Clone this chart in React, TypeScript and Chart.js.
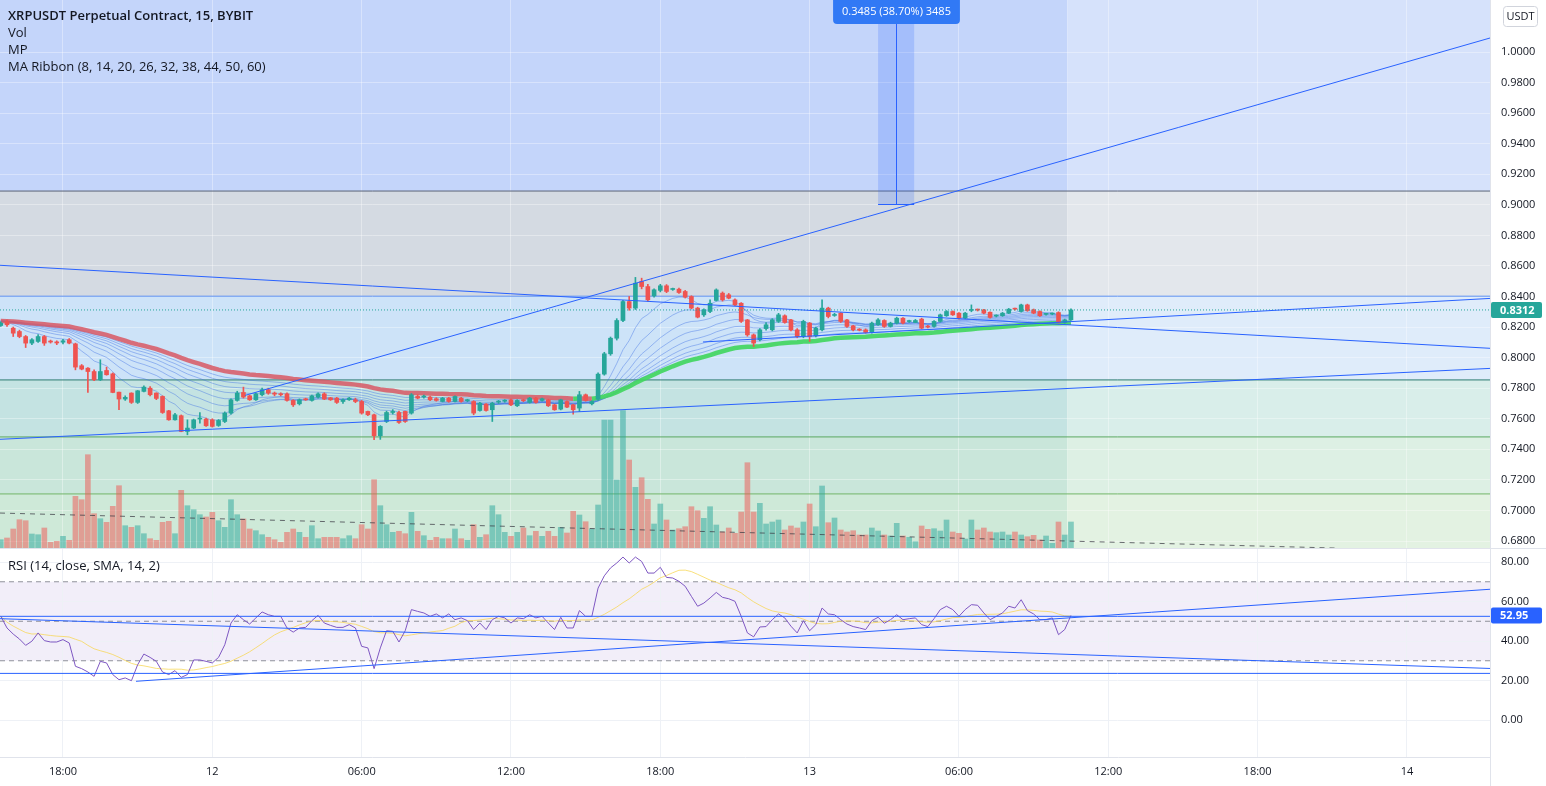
import React, { useEffect, useRef } from 'react';
import { Chart, registerables } from 'chart.js';

Chart.register(...registerables);

const FONT = '"Open Sans", sans-serif';
Chart.defaults.font.family = FONT;

// ---------------- DATA (15-minute bars, index 0 = 11th 15:30) ----------------
const OPEN = [
  0.8210, 0.8236, 0.8193, 0.8171, 0.8138, 0.8095, 0.8106, 0.8138, 0.8108, 0.8103,
  0.8101, 0.8117, 0.8090, 0.7947, 0.7931, 0.7909, 0.7855, 0.7916, 0.7894, 0.7774,
  0.7729, 0.7768, 0.7707, 0.7779, 0.7800, 0.7768, 0.7746, 0.7652, 0.7593, 0.7620,
  0.7517, 0.7539, 0.7598, 0.7598, 0.7593, 0.7556, 0.7582, 0.7637, 0.7720, 0.7772,
  0.7750, 0.7724, 0.7757, 0.7790, 0.7768, 0.7761, 0.7763, 0.7720, 0.7698, 0.7729,
  0.7720, 0.7742, 0.7763, 0.7737, 0.7735, 0.7713, 0.7724, 0.7724, 0.7713, 0.7648,
  0.7626, 0.7489, 0.7582, 0.7641, 0.7641, 0.7648, 0.7637, 0.7746, 0.7742, 0.7742,
  0.7731, 0.7713, 0.7735, 0.7713, 0.7735, 0.7718, 0.7713, 0.7654, 0.7696, 0.7659,
  0.7709, 0.7715, 0.7724, 0.7685, 0.7722, 0.7707, 0.7735, 0.7720, 0.7724, 0.7691,
  0.7663, 0.7713, 0.7691, 0.7670, 0.7757, 0.7698, 0.7728, 0.7892, 0.8025, 0.8127,
  0.8243, 0.8367, 0.8324, 0.8498, 0.8465, 0.8404, 0.8440, 0.8470, 0.8446, 0.8448,
  0.8433, 0.8400, 0.8324, 0.8280, 0.8302, 0.8374, 0.8422, 0.8411, 0.8378, 0.8356,
  0.8247, 0.8149, 0.8117, 0.8190, 0.8182, 0.8237, 0.8274, 0.8247, 0.8182, 0.8138,
  0.8226, 0.8143, 0.8182, 0.8324, 0.8276, 0.8291, 0.8247, 0.8208, 0.8185, 0.8182,
  0.8165, 0.8215, 0.8243, 0.8204, 0.8226, 0.8258, 0.8236, 0.8230, 0.8252, 0.8206,
  0.8204, 0.8237, 0.8274, 0.8302, 0.8291, 0.8258, 0.8309, 0.8313, 0.8313, 0.8297,
  0.8272, 0.8274, 0.8291, 0.8319, 0.8302, 0.8345, 0.8313, 0.8302, 0.8283, 0.8285,
  0.8295, 0.8230, 0.8247,
];
const HIGH = [
  0.8235, 0.8245, 0.8200, 0.8180, 0.8145, 0.8125, 0.8150, 0.8145, 0.8115, 0.8110,
  0.8120, 0.8125, 0.8095, 0.7955, 0.7935, 0.7920, 0.7986, 0.7938, 0.7900, 0.7775,
  0.7750, 0.7770, 0.7785, 0.7815, 0.7810, 0.7770, 0.7750, 0.7655, 0.7635, 0.7625,
  0.7593, 0.7598, 0.7641, 0.7605, 0.7600, 0.7595, 0.7645, 0.7730, 0.7780, 0.7807,
  0.7755, 0.7770, 0.7800, 0.7800, 0.7775, 0.7770, 0.7770, 0.7725, 0.7730, 0.7735,
  0.7755, 0.7770, 0.7770, 0.7740, 0.7740, 0.7730, 0.7740, 0.7735, 0.7720, 0.7650,
  0.7630, 0.7555, 0.7650, 0.7660, 0.7650, 0.7650, 0.7765, 0.7757, 0.7755, 0.7748,
  0.7738, 0.7740, 0.7740, 0.7750, 0.7740, 0.7728, 0.7718, 0.7708, 0.7700, 0.7708,
  0.7720, 0.7725, 0.7728, 0.7725, 0.7728, 0.7740, 0.7740, 0.7735, 0.7728, 0.7695,
  0.7728, 0.7718, 0.7695, 0.7779, 0.7762, 0.7718, 0.7900, 0.8035, 0.8135, 0.8255,
  0.8375, 0.8400, 0.8525, 0.8520, 0.8480, 0.8450, 0.8480, 0.8478, 0.8455, 0.8455,
  0.8440, 0.8405, 0.8330, 0.8320, 0.8378, 0.8450, 0.8430, 0.8420, 0.8385, 0.8360,
  0.8250, 0.8155, 0.8190, 0.8230, 0.8255, 0.8290, 0.8280, 0.8250, 0.8190, 0.8245,
  0.8230, 0.8200, 0.8378, 0.8330, 0.8290, 0.8295, 0.8250, 0.8212, 0.8190, 0.8188,
  0.8232, 0.8255, 0.8248, 0.8232, 0.8265, 0.8262, 0.8245, 0.8250, 0.8258, 0.8212,
  0.8242, 0.8285, 0.8308, 0.8306, 0.8295, 0.8296, 0.8345, 0.8318, 0.8316, 0.8300,
  0.8280, 0.8296, 0.8322, 0.8325, 0.8350, 0.8350, 0.8318, 0.8306, 0.8290, 0.8292,
  0.8300, 0.8252, 0.8320,
];
const LOW = [
  0.8205, 0.8205, 0.8138, 0.8130, 0.8066, 0.8085, 0.8100, 0.8080, 0.8095, 0.8085,
  0.8090, 0.8090, 0.7920, 0.7920, 0.7772, 0.7850, 0.7850, 0.7885, 0.7770, 0.7659,
  0.7720, 0.7700, 0.7700, 0.7775, 0.7750, 0.7725, 0.7635, 0.7590, 0.7590, 0.7515,
  0.7495, 0.7535, 0.7571, 0.7550, 0.7545, 0.7550, 0.7575, 0.7630, 0.7715, 0.7735,
  0.7720, 0.7720, 0.7750, 0.7760, 0.7750, 0.7750, 0.7715, 0.7680, 0.7690, 0.7720,
  0.7715, 0.7735, 0.7725, 0.7720, 0.7700, 0.7700, 0.7720, 0.7705, 0.7630, 0.7620,
  0.7463, 0.7465, 0.7575, 0.7630, 0.7570, 0.7576, 0.7630, 0.7730, 0.7735, 0.7718,
  0.7715, 0.7710, 0.7708, 0.7710, 0.7708, 0.7712, 0.7626, 0.7650, 0.7650, 0.7582,
  0.7700, 0.7708, 0.7685, 0.7680, 0.7712, 0.7702, 0.7702, 0.7715, 0.7680, 0.7655,
  0.7658, 0.7672, 0.7630, 0.7648, 0.7715, 0.7690, 0.7720, 0.7885, 0.8015, 0.8115,
  0.8235, 0.8310, 0.8315, 0.8450, 0.8370, 0.8395, 0.8430, 0.8425, 0.8440, 0.8420,
  0.8390, 0.8320, 0.8260, 0.8270, 0.8295, 0.8370, 0.8370, 0.8385, 0.8340, 0.8230,
  0.8140, 0.8073, 0.8110, 0.8180, 0.8175, 0.8230, 0.8225, 0.8175, 0.8130, 0.8130,
  0.8106, 0.8135, 0.8175, 0.8260, 0.8270, 0.8230, 0.8198, 0.8175, 0.8175, 0.8160,
  0.8160, 0.8210, 0.8198, 0.8200, 0.8220, 0.8220, 0.8230, 0.8228, 0.8188, 0.8195,
  0.8200, 0.8232, 0.8270, 0.8276, 0.8252, 0.8254, 0.8300, 0.8305, 0.8286, 0.8258,
  0.8266, 0.8270, 0.8288, 0.8310, 0.8298, 0.8303, 0.8287, 0.8270, 0.8278, 0.8280,
  0.8225, 0.8225, 0.8244,
];
const CLOSE = [
  0.8226, 0.8215, 0.8160, 0.8138, 0.8095, 0.8117, 0.8138, 0.8095, 0.8102, 0.8096,
  0.8110, 0.8095, 0.7938, 0.7925, 0.7909, 0.7855, 0.7909, 0.7888, 0.7772, 0.7729,
  0.7740, 0.7707, 0.7783, 0.7807, 0.7757, 0.7733, 0.7641, 0.7593, 0.7626, 0.7517,
  0.7539, 0.7593, 0.7604, 0.7554, 0.7550, 0.7589, 0.7637, 0.7724, 0.7768, 0.7742,
  0.7724, 0.7763, 0.7790, 0.7768, 0.7761, 0.7757, 0.7720, 0.7691, 0.7724, 0.7724,
  0.7750, 0.7763, 0.7729, 0.7724, 0.7707, 0.7724, 0.7735, 0.7713, 0.7637, 0.7626,
  0.7489, 0.7550, 0.7641, 0.7648, 0.7576, 0.7582, 0.7757, 0.7735, 0.7744, 0.7724,
  0.7720, 0.7735, 0.7713, 0.7746, 0.7713, 0.7722, 0.7637, 0.7702, 0.7654, 0.7702,
  0.7713, 0.7720, 0.7691, 0.7720, 0.7718, 0.7735, 0.7707, 0.7731, 0.7685, 0.7659,
  0.7724, 0.7676, 0.7659, 0.7757, 0.7720, 0.7713, 0.7892, 0.8025, 0.8127, 0.8243,
  0.8367, 0.8324, 0.8487, 0.8465, 0.8378, 0.8444, 0.8470, 0.8433, 0.8450, 0.8426,
  0.8396, 0.8324, 0.8265, 0.8313, 0.8356, 0.8443, 0.8378, 0.8389, 0.8345, 0.8237,
  0.8149, 0.8095, 0.8182, 0.8215, 0.8247, 0.8280, 0.8230, 0.8182, 0.8138, 0.8237,
  0.8138, 0.8193, 0.8324, 0.8269, 0.8280, 0.8237, 0.8204, 0.8182, 0.8180, 0.8165,
  0.8226, 0.8247, 0.8204, 0.8226, 0.8258, 0.8226, 0.8238, 0.8243, 0.8193, 0.8200,
  0.8237, 0.8280, 0.8302, 0.8280, 0.8258, 0.8291, 0.8313, 0.8311, 0.8291, 0.8263,
  0.8274, 0.8291, 0.8317, 0.8317, 0.8345, 0.8308, 0.8291, 0.8274, 0.8285, 0.8287,
  0.8230, 0.8247, 0.8312,
];
// volume, in units of 10k XRP
const VOLUME = [
  8.3, 10, 19, 28.3, 27.3, 14, 13.3, 20, 5.7, 6.7,
  11.7, 7.7, 51.7, 48.3, 93.3, 34.3, 29.3, 25.7, 41.7, 62.3,
  22.3, 20.7, 22.3, 14.3, 9.3, 7.7, 25.7, 26.7, 14.3, 57.7,
  42.3, 38.3, 33.3, 31, 35.7, 27.3, 20.7, 48.3, 33.3, 29,
  19, 17.3, 13.3, 10.7, 8.3, 5.7, 15.7, 19, 15.7, 10.7,
  22.3, 9.3, 10.7, 10.7, 10.7, 9.3, 12.3, 9.3, 23.3, 19,
  68.3, 42.3, 23.3, 15.7, 16.7, 14.3, 35.7, 16.7, 12.3, 7.7,
  10.7, 9.3, 9.3, 19, 9.3, 7.7, 23.3, 10.7, 13.3, 42.3,
  33.3, 15.7, 11.7, 15.7, 20, 12.3, 16.7, 11.7, 16.7, 11.7,
  20.7, 15, 36.7, 33, 26.3, 19, 43, 128, 128, 68,
  137.3, 88, 60.7, 70.3, 48.7, 24, 44, 28, 18, 19.3,
  21.3, 41.3, 37.3, 29.7, 41.3, 23, 16, 20, 14.7, 36,
  85.3, 36, 44.7, 24, 26, 28, 18, 22, 20, 26,
  44, 21.3, 62, 25.3, 30, 18, 16, 17.3, 13, 13,
  20, 17, 13, 12, 24.7, 12, 10.7, 6.3, 22, 18.7,
  19.3, 17, 28, 16, 14.7, 9, 28, 18, 20, 16,
  15.3, 16, 13, 16, 13, 11.3, 12.7, 8, 12, 4.7,
  26, 13, 26,
];
const RSI = [
  52.5, 46.6, 43.5, 41.0, 37.8, 39.9, 44.1, 40.2, 39.5, 39.5,
  40.7, 39.0, 27.2, 26.0, 24.3, 22.1, 29.7, 28.9, 23.0, 20.4,
  21.3, 19.9, 28.0, 33.4, 31.7, 29.7, 24.3, 23.0, 25.0, 21.6,
  23.0, 30.4, 30.4, 29.7, 28.9, 31.7, 38.1, 49.1, 53.3, 50.8,
  48.6, 51.7, 54.7, 53.3, 52.5, 52.5, 46.6, 44.5, 46.6, 46.9,
  50.3, 53.0, 49.1, 47.9, 46.9, 46.9, 48.3, 46.6, 37.3, 36.5,
  26.0, 36.5, 45.2, 44.9, 39.5, 45.2, 55.9, 55.0, 54.2, 52.5,
  53.7, 51.7, 53.7, 50.8, 51.7, 50.3, 45.8, 49.1, 45.8, 50.8,
  52.5, 51.7, 49.1, 51.7, 51.3, 53.3, 51.7, 52.5, 49.1, 45.8,
  52.0, 46.6, 46.6, 55.4, 52.5, 52.5, 66.8, 73.0, 77.0, 79.5,
  82.5, 79.5, 82.5, 80.3, 74.4, 74.4, 77.3, 72.2, 71.9, 70.2,
  67.7, 62.6, 57.6, 59.2, 61.8, 64.6, 62.1, 61.4, 60.1, 52.5,
  44.1, 42.1, 47.1, 47.3, 50.8, 53.7, 51.7, 47.5, 44.1, 50.3,
  45.2, 48.3, 56.7, 53.7, 53.3, 50.8, 48.6, 47.3, 46.6, 45.8,
  50.3, 52.0, 49.0, 50.8, 53.3, 50.8, 51.3, 51.7, 48.3, 47.3,
  51.3, 55.9, 57.6, 55.9, 52.5, 55.9, 58.4, 58.1, 54.2, 50.8,
  52.5, 54.2, 57.6, 56.7, 60.9, 55.4, 53.7, 50.8, 50.8, 51.7,
  43.2, 45.8, 52.95,
];

const TIME_TICK_INDEX = [10, 34, 58, 82, 106, 130, 154, 178, 202, 226];
const TIME_TICK_LABELS = ['18:00', '12', '06:00', '12:00', '18:00', '13', '06:00', '12:00', '18:00', '14'];
const PRICE_TICKS = [0.68, 0.70, 0.72, 0.74, 0.76, 0.78, 0.80, 0.82, 0.84, 0.86, 0.88, 0.90, 0.92, 0.94, 0.96, 0.98, 1.00];
const RSI_TICKS = [0, 20, 40, 60, 80];
const RSI_LEVELS = [70, 50, 30];
const MA_PERIODS = [8, 14, 20, 26, 32, 38, 44, 50, 60];
const PRIOR_PRICE = 0.824;
const RSI_MA_LEN = 14;
const LAST_PRICE = 0.8312;
const LAST_RSI = 52.95;
const TICK_SIZE = 0.0001;

// drawings (value space: bar index, price)
const FIB_LEVELS = [0.9090, 0.8402, 0.7854, 0.7481, 0.7108];
const LINE_X_FROM = [-0.125, 39.25, -0.125, 112.86];
const LINE_Y_FROM = [0.74655, 0.77528, 0.86043, 0.81023];
const LINE_X_TO = [239.35, 239.35, 239.35, 239.35];
const LINE_Y_TO = [0.79295, 1.00916, 0.80610, 0.83875];
const DASH_LINE_X = [-0.125, 214.4];
const DASH_LINE_Y = [0.6983, 0.6754];
const RANGE_FROM = 0.9005;
const RANGE_TO = 1.2490;
const RANGE_X = [141.0, 143.9, 146.8];
const HIGHLIGHT_END = 171.4;
// RSI drawings (bar index, RSI)
const RSI_LINE_X_FROM = [-0.125, -0.125, 21.73, -0.125];
const RSI_LINE_Y_FROM = [52.5, 51.3, 19.6, 23.6];
const RSI_LINE_X_TO = [239.35, 239.35, 239.35, 239.35];
const RSI_LINE_Y_TO = [52.5, 26.1, 66.2, 23.6];

// ---------------- layout / style ----------------
const W = 1546;
const MAIN_H = 548;
const RSI_H = 238;
const AXIS_W = 56;
const X_MIN = -0.125;
const X_MAX = 239.35;
const PRICE_MIN = 0.67542;
const PRICE_MAX = 1.03403;
const RSI_MIN = -18.73;
const RSI_MAX = 87.09;
const VOL_MAX = 548;

const GREEN = '#26a69a';
const RED = '#ef5350';
const BLUE = '#2962ff';
const TEXT = '#131722';
const BAND_LEFT = ['#c4d5fa', '#d4dae2', '#cde3f8', '#c4e3e2', '#c9e6da', '#cee9d8'];
const BAND_RIGHT = ['#d6e2fb', '#e3e7ec', '#dfecfa', '#d9eeea', '#ddf0e4', '#e3f2e2'];
const FIB_COLORS = ['#5a6478', '#5b8ff0', '#2b7a70', '#5aa860', '#72b568'];

function ema(values: number[], period: number, seed: number) {
  const k = 2 / (period + 1);
  let prev = seed;
  return values.map((v) => (prev = prev + k * (v - prev)));
}
function sma(values: number[], len: number) {
  return values.map((_, i) => {
    const from = Math.max(0, i - len + 1);
    const part = values.slice(from, i + 1);
    return part.reduce((s, v) => s + v, 0) / part.length;
  });
}
const idx = (arr: number[]) => arr.map((v, i) => ({ x: i, y: v }));
const seg = (x1: number, y1: number, x2: number, y2: number) => [{ x: x1, y: y1 }, { x: x2, y: y2 }];

const zeroPad = (s: any) => {
  s.paddingTop = 0;
  s.paddingBottom = 0;
  s.paddingLeft = 0;
  s.paddingRight = 0;
};

function xAxis(showLabels: boolean) {
  return {
    type: 'linear',
    min: X_MIN,
    max: X_MAX,
    offset: false,
    afterBuildTicks: (s: any) => {
      s.ticks = TIME_TICK_INDEX.map((v) => ({ value: v }));
    },
    ticks: {
      display: showLabels,
      autoSkip: false,
      maxRotation: 0,
      padding: 8,
      color: TEXT,
      font: { size: 11, family: FONT },
      callback: (_v: any, i: number) => TIME_TICK_LABELS[i],
    },
    grid: { offset: false, drawTicks: false, color: showLabels ? '#eef1f6' : 'rgba(255,255,255,0.35)' },
    border: { display: showLabels, color: '#e0e3eb' },
    afterFit: (s: any) => {
      s.height = showLabels ? 29 : 0;
      zeroPad(s);
    },
  };
}

function roundRect(ctx: any, x: number, y: number, w: number, h: number, r: number) {
  ctx.beginPath();
  ctx.moveTo(x + r, y);
  ctx.lineTo(x + w - r, y);
  ctx.quadraticCurveTo(x + w, y, x + w, y + r);
  ctx.lineTo(x + w, y + h - r);
  ctx.quadraticCurveTo(x + w, y + h, x + w - r, y + h);
  ctx.lineTo(x + r, y + h);
  ctx.quadraticCurveTo(x, y + h, x, y + h - r);
  ctx.lineTo(x, y + r);
  ctx.quadraticCurveTo(x, y, x + r, y);
  ctx.closePath();
}

function badge(ctx: any, chart: any, yPix: number, text: string, color: string) {
  const a = chart.chartArea;
  ctx.save();
  ctx.fillStyle = color;
  roundRect(ctx, a.right + 1, yPix - 8, 51, 16, 2);
  ctx.fill();
  ctx.fillStyle = '#ffffff';
  ctx.font = `bold 11px ${FONT}`;
  ctx.textBaseline = 'middle';
  ctx.textAlign = 'left';
  ctx.fillText(text, a.right + 10, yPix + 0.5);
  ctx.restore();
}

const mainDecor = {
  id: 'mainDecor',
  beforeDraw(chart: any) {
    const { ctx, chartArea: a, scales } = chart;
    const x = scales.x;
    const y = scales.y;
    const xs = Math.min(a.right, x.getPixelForValue(HIGHLIGHT_END));
    ctx.save();
    for (let k = 0; k <= FIB_LEVELS.length; k++) {
      const top = k === 0 ? a.top : y.getPixelForValue(FIB_LEVELS[k - 1]);
      const bot = k === FIB_LEVELS.length ? a.bottom : y.getPixelForValue(FIB_LEVELS[k]);
      ctx.fillStyle = BAND_LEFT[k];
      ctx.fillRect(a.left, top, xs - a.left, bot - top);
      ctx.fillStyle = BAND_RIGHT[k];
      ctx.fillRect(xs, top, a.right - xs, bot - top);
    }
    ctx.restore();
  },
  afterDatasetsDraw(chart: any) {
    const { ctx, chartArea: a, scales } = chart;
    const x = scales.x;
    const y = scales.y;
    const x0 = x.getPixelForValue(RANGE_X[0]);
    const xm = Math.round(x.getPixelForValue(RANGE_X[1])) + 0.5;
    const x1 = x.getPixelForValue(RANGE_X[2]);
    const yb = Math.round(y.getPixelForValue(RANGE_FROM)) + 0.5;
    const yt = Math.max(a.top, y.getPixelForValue(RANGE_TO));
    ctx.save();
    ctx.beginPath();
    ctx.rect(a.left, a.top, a.right - a.left, a.bottom - a.top);
    ctx.clip();
    ctx.fillStyle = 'rgba(41,98,255,0.2)';
    ctx.fillRect(x0, yt, x1 - x0, yb - yt);
    ctx.strokeStyle = BLUE;
    ctx.lineWidth = 1;
    ctx.beginPath();
    ctx.moveTo(xm, yt + 20);
    ctx.lineTo(xm, yb);
    ctx.moveTo(x0, yb);
    ctx.lineTo(x1, yb);
    ctx.stroke();
    const diff = RANGE_TO - RANGE_FROM;
    const pct = (diff / RANGE_FROM) * 100;
    const text = `${diff.toFixed(4)} (${pct.toFixed(2)}%) ${Math.round(diff / TICK_SIZE)}`;
    ctx.font = `11px ${FONT}`;
    const tw = ctx.measureText(text).width;
    const bw = tw + 18;
    ctx.fillStyle = '#3179f5';
    roundRect(ctx, xm - bw / 2, a.top - 4, bw, 28, 4);
    ctx.fill();
    ctx.fillStyle = '#ffffff';
    ctx.textAlign = 'center';
    ctx.textBaseline = 'middle';
    ctx.fillText(text, xm, a.top + 12);
    ctx.restore();
  },
  afterDraw(chart: any) {
    const { ctx, chartArea: a, scales } = chart;
    ctx.save();
    ctx.strokeStyle = '#e0e3eb';
    ctx.lineWidth = 1;
    ctx.beginPath();
    ctx.moveTo(a.right + 0.5, 0);
    ctx.lineTo(a.right + 0.5, chart.height);
    ctx.stroke();
    // currency box
    ctx.strokeStyle = '#d1d4dc';
    roundRect(ctx, a.right + 13.5, 6.5, 34, 20, 3);
    ctx.stroke();
    ctx.fillStyle = TEXT;
    ctx.font = `11px ${FONT}`;
    ctx.textAlign = 'center';
    ctx.textBaseline = 'middle';
    ctx.fillText('USDT', a.right + 30.5, 17);
    ctx.restore();
    badge(ctx, chart, scales.y.getPixelForValue(LAST_PRICE), LAST_PRICE.toFixed(4), GREEN);
  },
};

const rsiDecor = {
  id: 'rsiDecor',
  beforeDraw(chart: any) {
    const { ctx, chartArea: a, scales } = chart;
    const y = scales.y;
    const t = y.getPixelForValue(RSI_LEVELS[0]);
    const b = y.getPixelForValue(RSI_LEVELS[2]);
    ctx.save();
    ctx.fillStyle = 'rgba(126,87,194,0.1)';
    ctx.fillRect(a.left, t, a.right - a.left, b - t);
    ctx.restore();
  },
  afterDraw(chart: any) {
    const { ctx, chartArea: a, scales } = chart;
    ctx.save();
    ctx.strokeStyle = '#e0e3eb';
    ctx.lineWidth = 1;
    ctx.beginPath();
    ctx.moveTo(a.right + 0.5, 0);
    ctx.lineTo(a.right + 0.5, chart.height);
    ctx.moveTo(0, 0.5);
    ctx.lineTo(chart.width, 0.5);
    ctx.stroke();
    ctx.restore();
    badge(ctx, chart, scales.y.getPixelForValue(LAST_RSI), LAST_RSI.toFixed(2), BLUE);
  },
};

function yAxisRight(min: number, max: number, ticks: number[], digits: number, gridColor: string) {
  return {
    type: 'linear',
    position: 'right',
    min,
    max,
    afterBuildTicks: (s: any) => {
      s.ticks = ticks.map((v) => ({ value: v }));
    },
    ticks: {
      padding: 11,
      color: TEXT,
      font: { size: 11, family: FONT },
      callback: (v: any) => Number(v).toFixed(digits),
    },
    grid: { drawTicks: false, color: gridColor },
    border: { display: false },
    afterFit: (s: any) => {
      s.width = AXIS_W;
      zeroPad(s);
    },
  };
}

function mainConfig(): any {
  const ribbons = MA_PERIODS.map((p) => ema(CLOSE, p, PRIOR_PRICE));
  const bodies = OPEN.map((o, i) => ({ x: i, y: [o, CLOSE[i]] }));
  const wicks = OPEN.map((o, i) => ({
    x: i,
    y: [Math.min(LOW[i], o, CLOSE[i]), Math.max(HIGH[i], o, CLOSE[i])],
  }));
  const up = OPEN.map((o, i) => CLOSE[i] >= o);
  const slow = ribbons[ribbons.length - 1];

  const datasets: any[] = [];
  FIB_LEVELS.forEach((lv, k) => {
    datasets.push({
      type: 'line',
      data: seg(X_MIN, lv, X_MAX, lv),
      borderColor: FIB_COLORS[k],
      borderWidth: 1,
      pointRadius: 0,
      order: 20,
    });
  });
  datasets.push({
    type: 'bar',
    data: idx(VOLUME),
    yAxisID: 'yVol',
    backgroundColor: up.map((u) => (u ? 'rgba(38,166,154,0.5)' : 'rgba(239,83,80,0.5)')),
    barThickness: 5,
    grouped: false,
    order: 15,
  });
  datasets.push({
    type: 'line',
    data: DASH_LINE_X.map((x, i) => ({ x, y: DASH_LINE_Y[i] })),
    borderColor: 'rgba(60,60,70,0.75)',
    borderDash: [5, 5],
    borderWidth: 1,
    pointRadius: 0,
    order: 14,
  });
  ribbons.forEach((r, k) => {
    const last = k === ribbons.length - 1;
    datasets.push({
      type: 'line',
      data: idx(r),
      borderColor: last ? '#d9646f' : 'rgba(60,110,228,0.42)',
      borderWidth: last ? 4.5 : 1,
      pointRadius: 0,
      tension: 0,
      order: last ? 9 : 10,
      segment: last
        ? {
            borderColor: (c: any) =>
              slow[c.p1DataIndex] >= slow[c.p0DataIndex] ? 'rgba(66,214,96,0.92)' : 'rgba(216,88,100,0.85)',
          }
        : undefined,
    });
  });
  datasets.push({
    type: 'bar',
    data: wicks,
    backgroundColor: up.map((u) => (u ? GREEN : RED)),
    barThickness: 1,
    grouped: false,
    order: 6,
  });
  datasets.push({
    type: 'bar',
    data: bodies,
    backgroundColor: up.map((u) => (u ? GREEN : RED)),
    barThickness: 4,
    minBarLength: 1,
    grouped: false,
    order: 5,
  });
  datasets.push({
    type: 'line',
    data: seg(X_MIN, LAST_PRICE, X_MAX, LAST_PRICE),
    borderColor: GREEN,
    borderDash: [1, 2],
    borderWidth: 1,
    pointRadius: 0,
    order: 4,
  });
  LINE_X_FROM.forEach((x1, k) => {
    datasets.push({
      type: 'line',
      data: seg(x1, LINE_Y_FROM[k], LINE_X_TO[k], LINE_Y_TO[k]),
      borderColor: BLUE,
      borderWidth: 1,
      pointRadius: 0,
      order: 1,
    });
  });

  return {
    type: 'bar',
    data: { datasets },
    options: {
      responsive: false,
      animation: false,
      devicePixelRatio: 1,
      events: [],
      layout: { padding: 0 },
      plugins: { legend: { display: false }, tooltip: { enabled: false } },
      scales: {
        x: xAxis(false),
        y: yAxisRight(PRICE_MIN, PRICE_MAX, PRICE_TICKS, 4, 'rgba(255,255,255,0.35)'),
        yVol: { type: 'linear', display: false, min: 0, max: VOL_MAX },
      },
    },
    plugins: [mainDecor],
  };
}

function rsiConfig(): any {
  const rsiMa = sma(RSI, RSI_MA_LEN);
  const datasets: any[] = [];
  RSI_LEVELS.forEach((lv) => {
    datasets.push({
      type: 'line',
      data: seg(X_MIN, lv, X_MAX, lv),
      borderColor: 'rgba(110,112,122,0.75)',
      borderDash: [5, 4],
      borderWidth: 1,
      pointRadius: 0,
      order: 10,
    });
  });
  datasets.push({
    type: 'line',
    data: idx(rsiMa),
    borderColor: 'rgba(247,213,80,0.75)',
    borderWidth: 1,
    pointRadius: 0,
    order: 6,
  });
  datasets.push({
    type: 'line',
    data: idx(RSI),
    borderColor: '#7e57c2',
    borderWidth: 1,
    pointRadius: 0,
    order: 5,
  });
  RSI_LINE_X_FROM.forEach((x1, k) => {
    datasets.push({
      type: 'line',
      data: seg(x1, RSI_LINE_Y_FROM[k], RSI_LINE_X_TO[k], RSI_LINE_Y_TO[k]),
      borderColor: BLUE,
      borderWidth: 1,
      pointRadius: 0,
      order: 1,
    });
  });
  return {
    type: 'line',
    data: { datasets },
    options: {
      responsive: false,
      animation: false,
      devicePixelRatio: 1,
      events: [],
      layout: { padding: 0 },
      plugins: { legend: { display: false }, tooltip: { enabled: false } },
      scales: {
        x: xAxis(true),
        y: yAxisRight(RSI_MIN, RSI_MAX, RSI_TICKS, 2, '#eef1f6'),
      },
    },
    plugins: [rsiDecor],
  };
}

const legendStyle: any = {
  position: 'absolute',
  left: 8,
  font: `13px ${FONT}`,
  color: TEXT,
  lineHeight: '17px',
  whiteSpace: 'nowrap',
  pointerEvents: 'none',
};

export default function App() {
  const topRef = useRef<HTMLCanvasElement>(null);
  const botRef = useRef<HTMLCanvasElement>(null);
  useEffect(() => {
    const c1 = new Chart(topRef.current as HTMLCanvasElement, mainConfig());
    const c2 = new Chart(botRef.current as HTMLCanvasElement, rsiConfig());
    return () => {
      c1.destroy();
      c2.destroy();
    };
  }, []);
  return (
    <div style={{ position: 'fixed', left: 0, top: 0, width: W, height: MAIN_H + RSI_H, background: '#ffffff', overflow: 'hidden' }}>
      <canvas ref={topRef} width={W} height={MAIN_H} style={{ position: 'absolute', left: 0, top: 0 }} />
      <canvas ref={botRef} width={W} height={RSI_H} style={{ position: 'absolute', left: 0, top: MAIN_H }} />
      <div style={{ ...legendStyle, top: 7 }}>
        <div style={{ fontWeight: 600 }}>XRPUSDT Perpetual Contract, 15, BYBIT</div>
        <div>Vol</div>
        <div>MP</div>
        <div>MA Ribbon (8, 14, 20, 26, 32, 38, 44, 50, 60)</div>
      </div>
      <div style={{ ...legendStyle, top: MAIN_H + 9 }}>RSI (14, close, SMA, 14, 2)</div>
    </div>
  );
}
